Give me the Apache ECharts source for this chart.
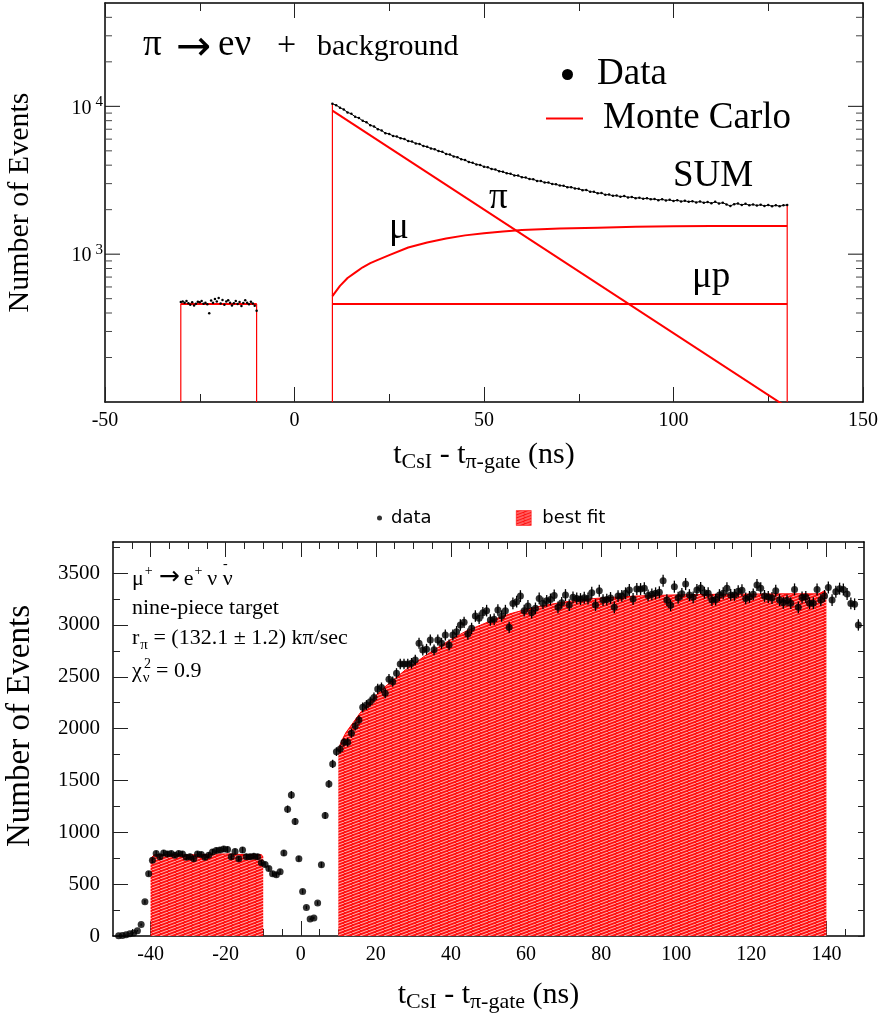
<!DOCTYPE html>
<html>
<head>
<meta charset="utf-8">
<script src="https://cdn.jsdelivr.net/npm/echarts@6/dist/echarts.min.js"></script>
<style>
  html, body { margin: 0; padding: 0; background: #fff; }
  #chart { width: 880px; height: 1021px; }
</style>
</head>
<body>
<div id="chart"></div>
<script>
// ---- top panel: pi -> e nu + background (log scale) ----
var topBgStart = -30, topBgStep = 0.5;
var topBgCounts = [475, 478, 470, 482, 465, 455, 472, 450, 462, 476, 472, 482, 462, 470, 458, 398, 486, 470, 498, 478,
  506, 463, 490, 455, 478, 488, 470, 450, 466, 482, 460, 474, 446, 468, 487, 470, 458, 476, 463, 448, 415];
var topSigStart = 10, topSigStep = 1;
var topSigCounts = [
  10400, 10180, 9800, 9520, 9100, 8900, 8500, 8330, 7980, 7800,
  7450, 7300, 7010, 6860, 6580, 6500, 6310, 6250, 6080, 6010,
  5820, 5780, 5600, 5560, 5390, 5330, 5180, 5130, 4980, 4920,
  4760, 4720, 4580, 4530, 4380, 4330, 4200, 4150, 4040, 4010,
  3900, 3870, 3770, 3740, 3640, 3610, 3520, 3500, 3410, 3400,
  3310, 3300, 3220, 3210, 3130, 3120, 3050, 3050, 2980, 2970,
  2910, 2900, 2840, 2840, 2780, 2770, 2710, 2720, 2640, 2640,
  2580, 2590, 2520, 2530, 2480, 2490, 2450, 2470, 2420, 2440,
  2390, 2410, 2370, 2390, 2350, 2360, 2320, 2350, 2310, 2330,
  2290, 2320, 2270, 2300, 2260, 2280, 2240, 2270, 2230, 2250,
  2210, 2260, 2200, 2230, 2170, 2120, 2180, 2200, 2150, 2190,
  2140, 2170, 2130, 2160, 2120, 2150, 2110, 2140, 2110, 2140,
  2150];
var mcFlatLevel = 460;               // MC background window and mu-p level
var mcPiTimes = [10, 130];
var mcPiCounts = [9350, 92];
var mcMuTimes = [10, 12, 14, 16, 18, 20, 22, 25, 30, 35, 40, 45, 50, 55, 60, 70, 80, 90, 100, 110, 120, 130];
var mcMuCounts = [520, 610, 690, 750, 815, 870, 915, 985, 1110, 1200, 1275, 1340, 1385, 1425, 1455, 1490, 1510, 1530, 1545, 1550, 1552, 1553];
var topYMin = 100, topYMax = 50000;
var topYLabels = [1000, 10000];

// ---- bottom panel: mu -> e nu nubar, nine-piece target ----
var botStart = -48.5, botStep = 1;
var botCounts = [
  3, 5, 12, 22, 30, 50, 110, 330, 600, 730,
  795, 765, 800, 790, 795, 780, 795, 790, 760, 765,
  745, 790, 785, 760, 780, 810, 825, 830, 838, 835,
  765, 815, 745, 830, 765, 765, 770, 765, 706, 690,
  650, 600, 590, 620, 800, 1223, 1361, 1104, 745, 430,
  276, 164, 174, 318, 687, 1162, 1467, 1660, 1778, 1803,
  1869, 1869, 1956, 2026, 2084, 2206, 2228, 2260, 2301, 2383,
  2396, 2341, 2476, 2453, 2533, 2623, 2623, 2623, 2630, 2662,
  2823, 2759, 2765, 2855, 2760, 2855, 2823, 2903, 2807, 2903,
  2935, 3000, 3025, 2912, 2967, 3086, 3064, 3118, 3138, 3048,
  3055, 3144, 3086, 3138, 2977, 3208, 3224, 3278, 3138, 3183,
  3118, 3160, 3256, 3208, 3233, 3246, 3285, 3170, 3214, 3288,
  3192, 3266, 3256, 3250, 3262, 3255, 3311, 3192, 3330, 3240,
  3245, 3260, 3170, 3278, 3280, 3305, 3337, 3250, 3346, 3346,
  3353, 3285, 3295, 3305, 3315, 3426, 3240, 3189, 3369, 3262,
  3300, 3394, 3288, 3266, 3337, 3356, 3311, 3305, 3240, 3245,
  3288, 3305, 3353, 3290, 3290, 3325, 3335, 3256, 3270, 3295,
  3385, 3355, 3280, 3270, 3260, 3330, 3240, 3214, 3235, 3210,
  3343, 3170, 3265, 3270, 3210, 3210, 3343, 3240, 3280, 3362,
  3240, 3320, 3350, 3343, 3298, 3208, 3200, 3000];
var fitBgTimes = [-40, -39, -30, -20, -15, -10.5, -10];
var fitBgCounts = [745, 785, 782, 792, 785, 785, 760];
var fitSigTimes = [10, 11, 12, 14, 16, 18, 20, 22, 24, 26, 28, 30, 33, 36, 40, 44, 48, 52, 56, 60, 65, 70, 75, 80, 90, 100, 110, 120, 130, 138, 139.5, 140];
var fitSigCounts = [1800, 1890, 1960, 2060, 2160, 2240, 2320, 2390, 2450, 2510, 2570, 2620, 2700, 2770, 2860, 2940, 3000, 3060, 3110, 3150, 3190, 3220, 3245, 3260, 3280, 3290, 3295, 3298, 3300, 3300, 3330, 3300];
var botXLabels = [-40, -20, 0, 20, 40, 60, 80, 100, 120, 140];
var botYLabels = [0, 500, 1000, 1500, 2000, 2500, 3000, 3500];

var SERIF = 'Liberation Serif, Times New Roman, serif';
var SANS = 'DejaVu Sans, sans-serif';
var RED = '#ff0000';
var X_MIN = -50, X_MAX = 150;
var TOP_L = 105, TOP_T = 3, TOP_W = 758, TOP_H = 399;

function pairs(xs, ys) { return xs.map(function (x, i) { return [x, ys[i]]; }); }
function binned(start, step, ys) { return ys.map(function (y, i) { return [start + i * step, y]; }); }
function lg(x) { return Math.log(x) / Math.LN10; }

// tick positions
var topMinor = [];
[100, 1000, 10000].forEach(function (dec) {
  for (var m = 2; m <= 9; m++) { if (m * dec < topYMax) topMinor.push(m * dec); }
});
var botXMinor = [], botYMinor = [];
for (var t = -45; t <= 145; t += 5) botXMinor.push(t);
for (var v = 250; v <= 3750; v += 250) botYMinor.push(v);

// red hatch for the fit
var hatch = document.createElement('canvas');
hatch.width = 8; hatch.height = 3;
var hc = hatch.getContext('2d');
hc.fillStyle = '#ff1010'; hc.fillRect(0, 0, 8, 3);
hc.strokeStyle = 'rgba(255,255,255,0.85)'; hc.lineWidth = 0.8;
hc.beginPath(); hc.moveTo(0, 3); hc.lineTo(8, 0); hc.stroke();
var hatchFill = { image: hatch, repeat: 'repeat' };

var topBgData = binned(topBgStart, topBgStep, topBgCounts);
var topSigData = binned(topSigStart, topSigStep, topSigCounts);
var tBgEnd = topBgData[topBgData.length - 1][0];
var tSigEnd = topSigData[topSigData.length - 1][0];
var botData = binned(botStart, botStep, botCounts);

var axisLine = { onZero: false, lineStyle: { color: '#000', width: 1.5 } };
var noLine = { show: false, onZero: false };
var tickStyle = { color: '#222', width: 1 };

function xAx(grid, pos, o) {
  return Object.assign({
    gridIndex: grid, type: 'value', position: pos, min: X_MIN, max: X_MAX,
    axisLine: axisLine, splitLine: { show: false }, axisLabel: { show: false },
    axisTick: { show: false }
  }, o);
}
function yAx(grid, pos, o) {
  return Object.assign({
    gridIndex: grid, position: pos,
    axisLine: axisLine, splitLine: { show: false }, axisLabel: { show: false },
    axisTick: { show: false }
  }, o);
}
var topY = { type: 'log', logBase: 10, min: topYMin, max: topYMax };
var botY = { type: 'value', min: 0, max: 3800 };
var subTitle = {
  fontFamily: SERIF, fontSize: 30, color: '#000', lineHeight: 36,
  rich: { s: { fontFamily: SERIF, fontSize: 22, color: '#000', lineHeight: 26, verticalAlign: 'bottom' } }
};

function mcLine(data, width, id) {
  return {
    id: id, name: 'Monte Carlo', type: 'line', xAxisIndex: 0, yAxisIndex: 0, data: data,
    symbol: 'none', silent: true, z: 2,
    lineStyle: { color: RED, width: width }, itemStyle: { color: RED }
  };
}
function txt(x, y, text, size, extra) {
  return { type: 'text', x: x, y: y, silent: true,
    style: Object.assign({ text: text, fill: '#000', fontFamily: SERIF, fontSize: size, verticalAlign: 'middle' }, extra || {}) };
}

var notes = [
  // top panel annotations
  txt(143, 45, 'π', 37),
  txt(176, 49, '→', 42, { fontFamily: SANS }),
  txt(218, 45, 'eν', 37),
  txt(277, 46, '+', 34),
  txt(317, 47, 'background', 30),
  txt(673, 176, 'SUM', 37),
  txt(489, 198, 'π', 37),
  txt(389, 228, 'μ', 37),
  txt(692, 277, 'μp', 37),
  // bottom panel annotations
  { type: 'text', x: 132, y: 577, silent: true, style: {
    text: '{m|μ}{p|+}{a|→}{m|e}{q|+}{m|ν ν}', fill: '#000', verticalAlign: 'middle',
    rich: { m: { fontFamily: SERIF, fontSize: 22, lineHeight: 26, verticalAlign: 'bottom' },
            a: { fontFamily: SANS, fontSize: 25, lineHeight: 26, verticalAlign: 'bottom', padding: [0, 4, 0, 5] },
            p: { fontFamily: SERIF, fontSize: 14, lineHeight: 14, verticalAlign: 'top', padding: [0, 1, 0, 1] },
            q: { fontFamily: SERIF, fontSize: 14, lineHeight: 14, verticalAlign: 'top', padding: [0, 5, 0, 1] } } } },
  txt(223, 564, '-', 14),
  txt(132, 608, 'nine-piece target', 22),
  { type: 'text', x: 132, y: 640, silent: true, style: {
    text: '{m|r}{s|π}{m| = (132.1 ± 1.2) kπ/sec}', fill: '#000', verticalAlign: 'middle',
    rich: { m: { fontFamily: SERIF, fontSize: 22, lineHeight: 26, verticalAlign: 'top' },
            s: { fontFamily: SERIF, fontSize: 15, lineHeight: 15, verticalAlign: 'bottom', padding: [0, 0, 0, 1] } } } },
  { type: 'text', x: 132, y: 673, silent: true, style: {
    text: '{m|χ}{s|ν}{m| = 0.9}', fill: '#000', verticalAlign: 'middle',
    rich: { m: { fontFamily: SERIF, fontSize: 22, lineHeight: 26, verticalAlign: 'top' },
            s: { fontFamily: SERIF, fontSize: 15, lineHeight: 15, verticalAlign: 'bottom', padding: [0, 1, 0, 1] } } } },
  txt(144, 664, '2', 14)
];

var chart = echarts.init(document.getElementById('chart'));
var option = {
  animation: false,
  backgroundColor: '#fff',
  grid: [
    { left: TOP_L, top: TOP_T, width: TOP_W, height: TOP_H, outerBoundsMode: 'none' },
    { left: 113, top: 542, width: 751, height: 394, outerBoundsMode: 'none' }
  ],
  xAxis: [
    xAx(0, 'bottom', {
      interval: 50,
      axisTick: { show: true, inside: true, length: 15, lineStyle: tickStyle },
      minorTick: { show: true, splitNumber: 2, length: 8, lineStyle: tickStyle },
      axisLabel: { show: true, color: '#000', fontFamily: SERIF, fontSize: 20, margin: 9 },
      name: 't{s|CsI} - t{s|π-gate} (ns)', nameLocation: 'middle', nameGap: 35,
      nameMoveOverlap: false, nameTextStyle: subTitle
    }),
    xAx(0, 'top', {
      interval: 50,
      axisTick: { show: true, inside: true, length: 15, lineStyle: tickStyle },
      minorTick: { show: true, splitNumber: 2, length: 8, lineStyle: tickStyle }
    }),
    xAx(1, 'bottom', {
      axisTick: { show: true, inside: true, length: 15, customValues: botXLabels, lineStyle: tickStyle },
      axisLabel: { show: true, customValues: botXLabels, color: '#000', fontFamily: SERIF, fontSize: 20, margin: 9 },
      name: 't{s|CsI} - t{s|π-gate} (ns)', nameLocation: 'middle', nameGap: 41,
      nameMoveOverlap: false, nameTextStyle: subTitle
    }),
    xAx(1, 'bottom', { axisLine: noLine, axisTick: { show: true, inside: true, length: 7, customValues: botXMinor, lineStyle: tickStyle } }),
    xAx(1, 'top', { axisTick: { show: true, inside: true, length: 15, customValues: botXLabels, lineStyle: tickStyle } }),
    xAx(1, 'top', { axisLine: noLine, axisTick: { show: true, inside: true, length: 7, customValues: botXMinor, lineStyle: tickStyle } })
  ],
  yAxis: [
    yAx(0, 'left', Object.assign({}, topY, {
      axisLabel: {
        show: true, customValues: topYLabels, margin: 2,
        formatter: function (val) { return '{b|10}{s|' + Math.round(lg(val)) + '}'; },
        rich: {
          b: { fontFamily: SERIF, fontSize: 20, color: '#000', lineHeight: 24, verticalAlign: 'bottom' },
          s: { fontFamily: SERIF, fontSize: 15, color: '#000', lineHeight: 14, verticalAlign: 'top', padding: [0, 0, 0, 4] }
        }
      },
      name: 'Number of Events', nameLocation: 'middle', nameGap: 70, nameMoveOverlap: false,
      nameTextStyle: { fontFamily: SERIF, fontSize: 30, color: '#000', lineHeight: 30 }
    })),
    yAx(0, 'right', Object.assign({}, topY)),
    yAx(1, 'left', Object.assign({}, botY, {
      axisTick: { show: true, inside: true, length: 15, customValues: botYLabels, lineStyle: tickStyle },
      axisLabel: { show: true, customValues: botYLabels, color: '#000', fontFamily: SERIF, fontSize: 21, margin: 13,
        formatter: function (val) { return String(val); } },
      name: 'Number of Events', nameLocation: 'middle', nameGap: 76, nameMoveOverlap: false,
      nameTextStyle: { fontFamily: SERIF, fontSize: 33, color: '#000', lineHeight: 33, padding: [0, 0, 0, 26] }
    })),
    yAx(1, 'left', Object.assign({}, botY, { axisLine: noLine, axisTick: { show: true, inside: true, length: 7, customValues: botYMinor, lineStyle: tickStyle } })),
    yAx(1, 'right', Object.assign({}, botY, { axisTick: { show: true, inside: true, length: 6, customValues: botYMinor.concat(botYLabels), lineStyle: tickStyle } }))
  ],
  legend: [
    {
      data: [{ name: 'Data', icon: 'circle' }], left: 557, top: 51, itemWidth: 11, itemHeight: 11,
      selectedMode: false, textStyle: { fontFamily: SERIF, fontSize: 37, color: '#000', lineHeight: 36, padding: [0, 0, 0, 19] }
    },
    {
      data: [{ name: 'Monte Carlo', icon: 'rect', itemStyle: { color: RED } }], left: 541, top: 95, itemWidth: 37, itemHeight: 2,
      selectedMode: false, textStyle: { fontFamily: SERIF, fontSize: 37, color: '#000', lineHeight: 36, padding: [0, 0, 0, 15] }
    },
    {
      data: [{ name: 'data', icon: 'circle' }], left: 372, top: 504, itemWidth: 5, itemHeight: 5,
      selectedMode: false, textStyle: { fontFamily: SANS, fontSize: 18, color: '#000', padding: [0, 0, 0, 4] }
    },
    {
      data: [{ name: 'best fit', icon: 'rect', itemStyle: { color: hatchFill, borderColor: RED, borderWidth: 0.5 } }],
      left: 511, top: 504, itemWidth: 15, itemHeight: 15,
      selectedMode: false, textStyle: { fontFamily: SANS, fontSize: 18, color: '#000', padding: [0, 0, 0, 6] }
    }
  ],
  graphic: { elements: notes },
  series: [
    // top panel, Monte Carlo components
    mcLine([[topSigStart, mcFlatLevel], [tSigEnd, mcFlatLevel]], 2, 'mup'),
    mcLine([[topBgStart, topYMin], [topBgStart, mcFlatLevel], [tBgEnd, mcFlatLevel], [tBgEnd, topYMin]], 1.2, 'bgbox'),
    mcLine([[topBgStart, mcFlatLevel], [tBgEnd, mcFlatLevel]], 2, 'bglevel'),
    mcLine(pairs(mcPiTimes, mcPiCounts), 2, 'pi'),
    mcLine(pairs(mcMuTimes, mcMuCounts), 2, 'mu'),
    mcLine([[topSigStart, topYMin], [topSigStart, topSigCounts[0]]], 1.2, 'edgeL'),
    mcLine([[tSigEnd, topSigCounts[topSigCounts.length - 1]], [tSigEnd, topYMin]], 1.2, 'edgeR'),
    // top panel, data
    {
      name: 'Data', type: 'line', xAxisIndex: 0, yAxisIndex: 0, data: topBgData, silent: true, z: 5,
      symbol: 'circle', symbolSize: 2.5, showAllSymbol: true,
      lineStyle: { width: 0 }, itemStyle: { color: '#000' }
    },
    {
      name: 'Data', type: 'line', xAxisIndex: 0, yAxisIndex: 0, data: topSigData, silent: true, z: 5,
      symbol: 'circle', symbolSize: 2.5, showAllSymbol: true,
      lineStyle: { color: '#000', width: 1 }, itemStyle: { color: '#000' }
    },
    // bottom panel, fit
    {
      name: 'best fit', type: 'line', xAxisIndex: 2, yAxisIndex: 2, data: pairs(fitBgTimes, fitBgCounts),
      symbol: 'none', silent: true, z: 1,
      lineStyle: { color: RED, width: 1 }, itemStyle: { color: RED }, areaStyle: { color: hatchFill, opacity: 1 }
    },
    {
      name: 'best fit', type: 'line', xAxisIndex: 2, yAxisIndex: 2, data: pairs(fitSigTimes, fitSigCounts),
      symbol: 'none', silent: true, z: 1,
      lineStyle: { color: RED, width: 1 }, itemStyle: { color: RED }, areaStyle: { color: hatchFill, opacity: 1 }
    },
    // bottom panel, data with sqrt(N) error bars
    {
      name: 'errors', type: 'custom', xAxisIndex: 2, yAxisIndex: 2, data: botData, silent: true, z: 4,
      renderItem: function (params, api) {
        var x = api.value(0), y = api.value(1), e = Math.sqrt(y);
        var p1 = api.coord([x, y + e]), p2 = api.coord([x, Math.max(y - e, 0)]);
        return { type: 'line', shape: { x1: p1[0], y1: p1[1], x2: p2[0], y2: p2[1] }, style: { stroke: '#000', lineWidth: 1.3 } };
      }
    },
    {
      name: 'data', type: 'scatter', xAxisIndex: 2, yAxisIndex: 2, data: botData, silent: true, z: 5,
      symbol: 'circle', symbolSize: 7, itemStyle: { color: '#000' }
    }
  ]
};
chart.setOption(option);

// log-axis ticks of the top panel: positions come from the chart's own scale
// (through a series on that grid); the grid layout is only a fallback
function topPx(x, y) {
  var p = null;
  try { p = chart.convertToPixel({ seriesId: 'mu' }, [x, y]); } catch (e) { p = null; }
  if (p && isFinite(p[0]) && isFinite(p[1])) return p;
  return [TOP_L + (x - X_MIN) / (X_MAX - X_MIN) * TOP_W,
          TOP_T + TOP_H * (1 - (lg(y) - lg(topYMin)) / (lg(topYMax) - lg(topYMin)))];
}
var tickMarks = [];
topYLabels.concat(topMinor).forEach(function (val) {
  var major = topYLabels.indexOf(val) >= 0;
  var len = major ? 15 : 7;
  var fill = major ? '#111' : '#444';
  var pl = topPx(X_MIN, val), pr = topPx(X_MAX, val);
  tickMarks.push({ type: 'rect', silent: true, z: 100, shape: { x: pl[0], y: pl[1] - 0.5, width: len, height: 1 }, style: { fill: fill } });
  tickMarks.push({ type: 'rect', silent: true, z: 100, shape: { x: pr[0] - len, y: pr[1] - 0.5, width: len, height: 1 }, style: { fill: fill } });
});
chart.setOption({ graphic: { elements: notes.concat(tickMarks) } });
</script>
</body>
</html>
